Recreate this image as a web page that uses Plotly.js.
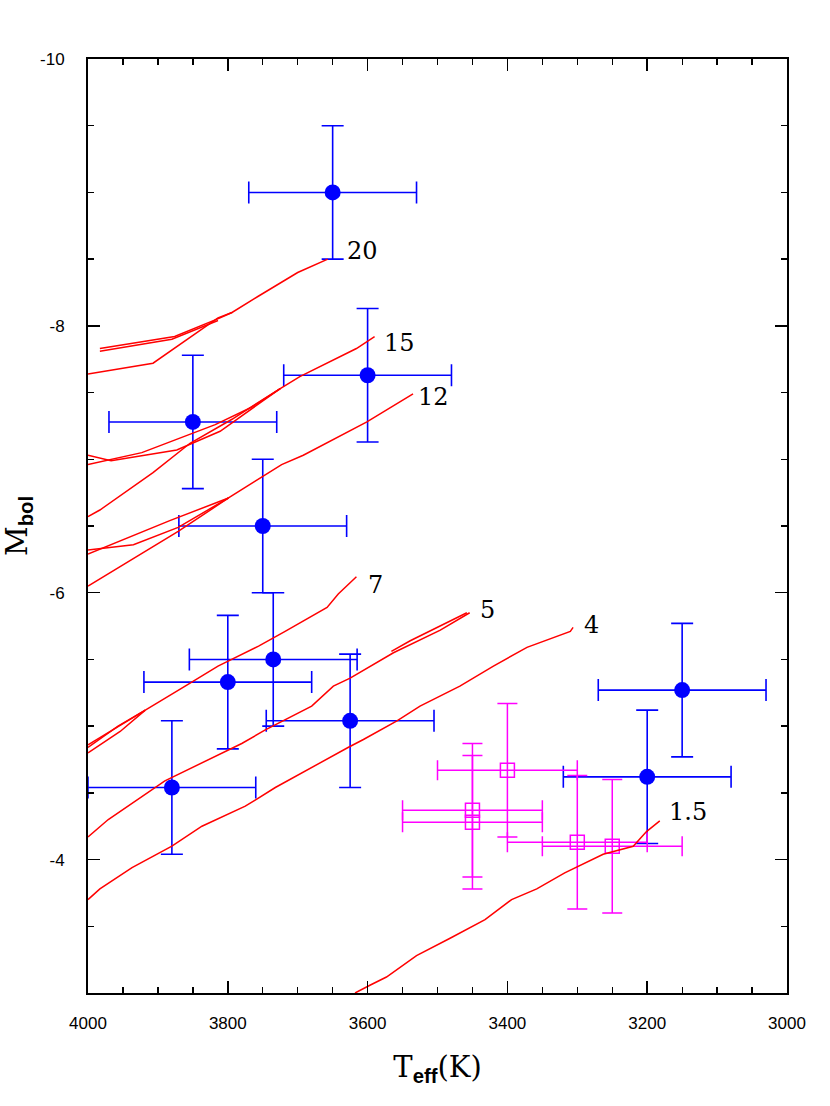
<!DOCTYPE html>
<html>
<head>
<meta charset="utf-8">
<script src="https://cdn.plot.ly/plotly-3.0.1.min.js"></script>
<style>html,body{margin:0;padding:0;background:#fff;}#chart{width:830px;height:1106px;}</style>
</head>
<body>
<div id="chart"></div>
<script>
// ---- Observed stars (blue filled circles) ----
const blueT = [3650, 3600, 3850, 3750, 3735, 3800, 3625, 3880, 3150, 3200];
const blueM = [-9.00, -7.63, -7.28, -6.50, -5.50, -5.33, -5.04, -4.54, -5.27, -4.62];
const blueTErr = [120, 120, 120, 120, 120, 120, 120, 120, 120, 120];
const blueMErr = [0.5, 0.5, 0.5, 0.5, 0.5, 0.5, 0.5, 0.5, 0.5, 0.5];

// ---- Observed stars (magenta open squares) ----
const magT = [3400, 3450, 3450, 3300, 3250];
const magM = [-4.67, -4.37, -4.28, -4.13, -4.10];
const magTErr = [100, 100, 100, 100, 100];
const magMErr = [0.5, 0.5, 0.5, 0.5, 0.5];

// ---- Evolutionary tracks (red) ----
const t20aT = [4000, 3907, 3814, 3794, 3757, 3700, 3657];
const t20aM = [-7.64, -7.72, -8.06, -8.10, -8.22, -8.40, -8.50];
const t20bT = [3983, 3876, 3811, 3794];
const t20bM = [-7.83, -7.92, -8.06, -8.10];
const t20cT = [3983, 3880, 3814];
const t20cM = [-7.81, -7.90, -8.04];

const t15aT = [4000, 3967, 3873, 3811, 3760, 3725];
const t15aM = [-7.03, -6.99, -7.07, -7.21, -7.40, -7.53];
const t15bT = [4000, 3923, 3818, 3766, 3725, 3697, 3616, 3590];
const t15bM = [-6.96, -7.05, -7.26, -7.39, -7.53, -7.62, -7.83, -7.92];
const t15cT = [4000, 3983, 3907, 3854, 3794, 3725];
const t15cM = [-6.57, -6.62, -6.90, -7.12, -7.30, -7.53];

const t12aT = [4000, 3883, 3799];
const t12aM = [-6.29, -6.54, -6.71];
const t12bT = [4000, 3935, 3871, 3799];
const t12bM = [-6.32, -6.36, -6.49, -6.71];
const t12cT = [4000, 3871, 3799, 3723, 3692, 3601, 3535];
const t12cM = [-6.05, -6.46, -6.71, -6.96, -7.03, -7.28, -7.49];

const t7aT = [4000, 3918];
const t7aM = [-4.86, -5.12];
const t7bT = [4000, 3957, 3918];
const t7bM = [-4.84, -5.00, -5.12];
const t7cT = [4000, 3954, 3918];
const t7cM = [-4.80, -4.96, -5.12];
const t7dT = [3918, 3861, 3814, 3756, 3718, 3658, 3642, 3616];
const t7dM = [-5.12, -5.30, -5.45, -5.60, -5.71, -5.89, -5.99, -6.12];

const t5aT = [4000, 3971, 3890, 3780, 3747, 3680, 3649, 3625, 3563, 3496, 3454];
const t5aM = [-4.17, -4.30, -4.59, -4.87, -4.97, -5.15, -5.30, -5.36, -5.55, -5.72, -5.85];
const t5bT = [3566, 3539, 3458];
const t5bM = [-5.56, -5.64, -5.85];

const t4T = [4000, 3983, 3937, 3880, 3837, 3775, 3732, 3628, 3606, 3558, 3525, 3468, 3420, 3372, 3310, 3306];
const t4M = [-3.70, -3.78, -3.94, -4.10, -4.25, -4.40, -4.54, -4.84, -4.90, -5.04, -5.15, -5.30, -5.45, -5.59, -5.71, -5.74];

const t15sT = [3618, 3596, 3573, 3530, 3482, 3432, 3394, 3358, 3318, 3263, 3220, 3201, 3182];
const t15sM = [-3.00, -3.06, -3.12, -3.28, -3.41, -3.55, -3.70, -3.78, -3.90, -4.04, -4.10, -4.21, -4.29];

// ---- Track mass labels ----
const labelText = ['20', '15', '12', '7', '5', '4', '1.5'];
const labelT = [3608, 3555, 3506, 3588, 3429, 3279, 3141];
const labelM = [-8.56, -7.87, -7.47, -6.06, -5.87, -5.76, -4.36];

// ---- Axis ticks ----
const xTickVals = [4000, 3800, 3600, 3400, 3200, 3000];
const xTickText = ['4000', '3800', '3600', '3400', '3200', '3000'];
const yTickVals = [-10, -8, -6, -4];
const yTickText = ['-10', '-8', '-6', '-4'];

const tracks = [
  [t20aT, t20aM], [t20bT, t20bM], [t20cT, t20cM],
  [t15aT, t15aM], [t15bT, t15bM], [t15cT, t15cM],
  [t12aT, t12aM], [t12bT, t12bM], [t12cT, t12cM],
  [t7aT, t7aM], [t7bT, t7bM], [t7cT, t7cM], [t7dT, t7dM],
  [t5aT, t5aM], [t5bT, t5bM],
  [t4T, t4M],
  [t15sT, t15sM]
];

const traces = [];

traces.push({
  type: 'scatter', mode: 'markers', x: blueT, y: blueM,
  marker: {symbol: 'circle', size: 16, color: '#0000ff'},
  error_x: {type: 'data', array: blueTErr, visible: true, color: '#0000ff', thickness: 1.6, width: 11},
  error_y: {type: 'data', array: blueMErr, visible: true, color: '#0000ff', thickness: 1.6, width: 11},
  showlegend: false, hoverinfo: 'skip'
});

traces.push({
  type: 'scatter', mode: 'markers', x: magT, y: magM,
  marker: {symbol: 'square-open', size: 14, color: '#ff00ff', line: {color: '#ff00ff', width: 1.5}},
  error_x: {type: 'data', array: magTErr, visible: true, color: '#ff00ff', thickness: 1.5, width: 10},
  error_y: {type: 'data', array: magMErr, visible: true, color: '#ff00ff', thickness: 1.5, width: 10},
  showlegend: false, hoverinfo: 'skip'
});

tracks.forEach(function (tr) {
  traces.push({
    type: 'scatter', mode: 'lines', x: tr[0], y: tr[1],
    line: {color: '#ff0000', width: 1.5, simplify: false},
    cliponaxis: false,
    showlegend: false, hoverinfo: 'skip'
  });
});

const annotations = labelText.map(function (t, i) {
  return {
    x: labelT[i], y: labelM[i], xref: 'x', yref: 'y', text: t, showarrow: false,
    xanchor: 'center', yanchor: 'middle',
    font: {family: 'DejaVu Serif', size: 24, color: '#000'}
  };
});

const layout = {
  width: 830, height: 1106,
  margin: {l: 88, r: 43, t: 59, b: 113},
  paper_bgcolor: '#fff', plot_bgcolor: '#fff',
  showlegend: false,
  xaxis: {
    range: [4000, 3000],
    tickmode: 'array', tickvals: xTickVals, ticktext: xTickText,
    ticks: 'inside', ticklen: 12, tickwidth: 1.5, tickcolor: '#000',
    showline: true, linecolor: '#000', linewidth: 2, mirror: 'allticks',
    showgrid: false, zeroline: false,
    minor: {tickmode: 'linear', tick0: 3000, dtick: 50, ticks: 'inside', ticklen: 6, tickwidth: 1.3, tickcolor: '#000', showgrid: false},
    tickfont: {family: 'Liberation Sans', size: 17, color: '#000'},
    ticklabelstandoff: 14,
    title: {
      text: 'T<sub><span style="font-family:\'Liberation Sans\';font-weight:bold">eff</span></sub>(K)',
      font: {family: 'DejaVu Serif', size: 29, color: '#000'},
      standoff: 24
    }
  },
  yaxis: {
    range: [-3, -10],
    tickmode: 'array', tickvals: yTickVals, ticktext: yTickText,
    ticks: 'inside', ticklen: 12, tickwidth: 1.5, tickcolor: '#000',
    showline: true, linecolor: '#000', linewidth: 2, mirror: 'allticks',
    showgrid: false, zeroline: false,
    minor: {tickmode: 'linear', tick0: -10, dtick: 0.5, ticks: 'inside', ticklen: 6, tickwidth: 1.3, tickcolor: '#000', showgrid: false},
    tickfont: {family: 'Liberation Sans', size: 17, color: '#000'},
    ticklabelstandoff: 18,
    title: {
      text: 'M<sub><span style="font-family:\'Liberation Sans\';font-weight:bold">bol</span></sub>',
      font: {family: 'DejaVu Serif', size: 29, color: '#000'},
      standoff: 8
    }
  },
  annotations: annotations
};

Plotly.newPlot('chart', traces, layout, {staticPlot: true, displayModeBar: false});
</script>
</body>
</html>
